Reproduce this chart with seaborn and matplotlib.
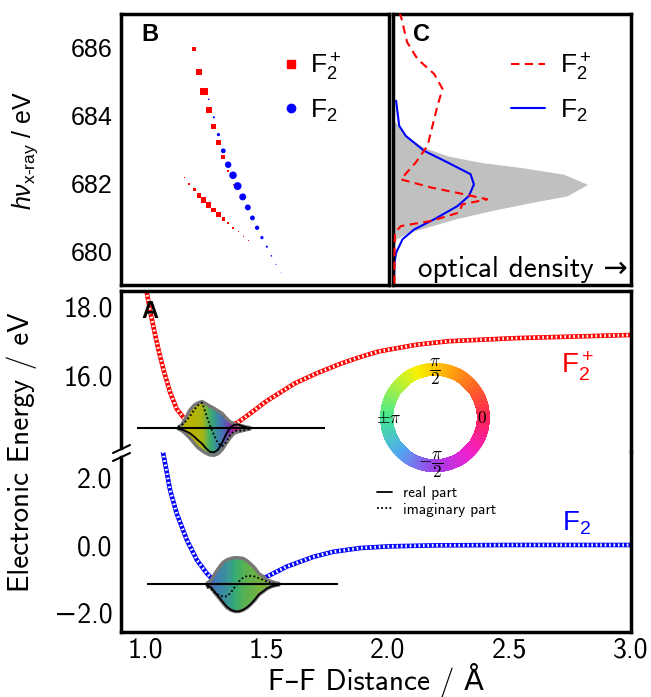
import numpy as np
import matplotlib
matplotlib.use("Agg")
import matplotlib.pyplot as plt
import seaborn as sns
from matplotlib.lines import Line2D
from matplotlib.collections import PolyCollection
from matplotlib.colors import LinearSegmentedColormap

# ---------------- data ----------------
# Panel A: potential energy curves (F-F distance / Å, energy / eV)
r_f2p = [1.000, 1.007, 1.021, 1.041, 1.059, 1.078, 1.103, 1.130, 1.160, 1.200, 1.290,
         1.377, 1.432, 1.501, 1.617, 1.707, 1.802, 1.885, 1.960, 2.118, 2.250, 2.530, 3.000]
e_f2p = [18.70, 18.40, 17.85, 17.18, 16.62, 16.10, 15.50, 15.02, 14.75, 14.58, 14.48,
         14.60, 14.88, 15.25, 15.76, 16.05, 16.32, 16.52, 16.68, 16.88, 16.98, 17.07, 17.16]
r_f2 = [1.070, 1.103, 1.130, 1.172, 1.213, 1.254, 1.281, 1.317, 1.379, 1.440, 1.501,
        1.583, 1.693, 1.775, 1.885, 2.004, 2.200, 2.502, 3.000]
e_f2 = [2.90, 1.63, 0.94, 0.15, -0.44, -0.84, -1.04, -1.19, -1.24, -1.19, -0.94,
        -0.64, -0.35, -0.20, -0.09, -0.04, -0.01, 0.00, 0.00]

# Panel A: vibrational wavepackets (amplitudes in eV relative to the level)
wp_f2p_level = 14.455
wp_f2p_span = [0.966, 1.741]
wp_f2p_r = [1.136, 1.152, 1.169, 1.185, 1.202, 1.218, 1.235, 1.251, 1.267, 1.284,
            1.300, 1.317, 1.333, 1.350, 1.366, 1.383, 1.399, 1.416, 1.432]
wp_f2p_upper = [0.014, 0.116, 0.319, 0.536, 0.667, 0.739, 0.774, 0.710, 0.638, 0.580,
                0.507, 0.435, 0.304, 0.188, 0.130, 0.096, 0.072, 0.043, 0.023]
wp_f2p_lower = [0.014, 0.072, 0.174, 0.290, 0.435, 0.565, 0.652, 0.725, 0.774, 0.783,
                0.739, 0.623, 0.449, 0.275, 0.145, 0.101, 0.072, 0.043, 0.023]
wp_f2p_re = [-0.009, -0.038, -0.087, -0.145, -0.241, -0.348, -0.449, -0.580, -0.681, -0.696,
             -0.623, -0.420, -0.183, 0.020, 0.101, 0.110, 0.067, 0.029, 0.009]
wp_f2p_im = [0.043, 0.101, 0.217, 0.348, 0.536, 0.667, 0.739, 0.406, 0.087, -0.203,
             -0.435, -0.522, -0.406, -0.203, -0.087, -0.058, -0.072, -0.043, -0.014]

wp_f2_level = -1.165
wp_f2_span = [1.007, 1.795]
wp_f2_r = [1.255, 1.272, 1.288, 1.305, 1.321, 1.337, 1.354, 1.370, 1.387, 1.403,
           1.420, 1.436, 1.453, 1.469, 1.486, 1.502, 1.519, 1.535, 1.551]
wp_f2_upper = [0.030, 0.133, 0.326, 0.504, 0.652, 0.726, 0.770, 0.791, 0.785, 0.770,
               0.696, 0.593, 0.474, 0.311, 0.237, 0.133, 0.089, 0.050, 0.030]
wp_f2_lower = [0.044, 0.104, 0.267, 0.415, 0.563, 0.696, 0.770, 0.809, 0.806, 0.770,
               0.696, 0.593, 0.465, 0.311, 0.222, 0.133, 0.074, 0.039, 0.021]
wp_f2_re = [-0.030, -0.089, -0.237, -0.385, -0.533, -0.667, -0.756, -0.800, -0.800, -0.756,
            -0.681, -0.578, -0.444, -0.296, -0.207, -0.119, -0.065, -0.033, -0.015]
wp_f2_im = [-0.089, -0.148, -0.252, -0.326, -0.364, -0.356, -0.237, -0.068, 0.089, 0.193,
            0.246, 0.246, 0.228, 0.178, 0.133, 0.074, 0.044, 0.021, 0.006]

# Panel B: X-ray transition energies vs. distance, marker area ~ weight
b_f2p_up_r = [1.203, 1.222, 1.242, 1.262, 1.283, 1.302, 1.322, 1.343, 1.363, 1.383, 1.403]
b_f2p_up_e = [685.96, 685.28, 684.71, 684.17, 683.68, 683.20, 682.77, 682.37, 681.97, 681.60, 681.25]
b_f2p_up_w = [0.33, 0.73, 1.00, 0.73, 0.51, 0.51, 0.33, 0.08, 0.02, 0.01, 0.005]
b_f2p_lo_r = [1.141, 1.162, 1.182, 1.203, 1.222, 1.242, 1.262, 1.283, 1.302, 1.322,
              1.343, 1.363, 1.384, 1.405, 1.425]
b_f2p_lo_e = [682.39, 682.17, 681.99, 681.82, 681.65, 681.51, 681.36, 681.21, 681.08, 680.95,
              680.82, 680.69, 680.57, 680.44, 680.32]
b_f2p_lo_w = [0.005, 0.013, 0.066, 0.18, 0.41, 0.51, 0.51, 0.41, 0.33, 0.18,
              0.08, 0.046, 0.02, 0.01, 0.005]
b_f2_r = [1.262, 1.283, 1.302, 1.322, 1.342, 1.362, 1.381, 1.402, 1.423, 1.442,
          1.461, 1.481, 1.501, 1.520, 1.539, 1.560]
b_f2_e = [684.48, 683.95, 683.44, 682.96, 682.55, 682.24, 681.92, 681.60, 681.29, 680.98,
          680.69, 680.40, 680.13, 679.86, 679.61, 679.36]
b_f2_w = [0.042, 0.075, 0.17, 0.38, 0.68, 0.92, 1.00, 0.79, 0.57, 0.38,
          0.30, 0.17, 0.075, 0.042, 0.019, 0.009]

# Panel C: spectra (optical density, arbitrary units) vs photon energy / eV
c_exp_e = [680.10, 680.35, 680.54, 680.74, 680.94, 681.19, 681.43, 681.63, 681.97, 682.27,
           682.47, 682.62, 682.81, 683.06, 683.40, 683.80]
c_exp_od = [0.003, 0.013, 0.061, 0.159, 0.257, 0.410, 0.577, 0.731, 0.817, 0.717,
            0.536, 0.368, 0.229, 0.131, 0.054, 0.010]
c_f2_e = [684.44, 683.70, 683.40, 682.96, 682.62, 682.27, 681.97, 681.63, 681.33, 680.94,
          680.64, 680.35, 679.95, 679.66, 679.00]
c_f2_od = [0.013, 0.026, 0.054, 0.131, 0.229, 0.326, 0.340, 0.319, 0.271, 0.173,
           0.089, 0.040, 0.013, 0.006, 0.004]
c_f2p_e = [687.05, 686.86, 686.17, 685.67, 685.23, 684.79, 684.29, 683.70, 683.11, 682.62,
           682.12, 681.88, 681.68, 681.53, 681.38, 681.14, 680.89, 680.74, 680.54, 679.95, 679.00]
c_f2p_od = [0.027, 0.036, 0.059, 0.103, 0.173, 0.208, 0.187, 0.166, 0.145, 0.096,
            0.033, 0.159, 0.298, 0.396, 0.291, 0.278, 0.159, 0.033, 0.008, 0.006, 0.006]

a_xticks = [1.0, 1.5, 2.0, 2.5, 3.0]
a_top_yticks = [16.0, 18.0]
a_bot_yticks = [-2.0, 0.0, 2.0]
b_xticks = [1.0, 1.5]
b_yticks = [680, 682, 684, 686]

# ---------------- style ----------------
sns.set_style("white")
plt.rcParams["font.family"] = ["cmss10", "DejaVu Sans"]
plt.rcParams["mathtext.fontset"] = "custom"
plt.rcParams["mathtext.rm"] = "Liberation Sans"
plt.rcParams["mathtext.sf"] = "Liberation Sans"
plt.rcParams["mathtext.it"] = "Liberation Sans:italic"
plt.rcParams["mathtext.bf"] = "Liberation Sans:bold"
plt.rcParams["axes.unicode_minus"] = True
for key in ("text.color", "axes.labelcolor", "xtick.color", "ytick.color", "axes.edgecolor"):
    plt.rcParams[key] = "black"

ARIAL = ["Liberation Sans", "DejaVu Sans"]
RED, BLUE = "#ff0000", "#0000ff"

phase_cmap = LinearSegmentedColormap.from_list("phase", [
    (0.0, "#ff2255"), (45 / 360, "#ff7020"), (90 / 360, "#ffc800"), (112 / 360, "#f8f000"),
    (140 / 360, "#b0f040"), (180 / 360, "#44e890"), (225 / 360, "#50a8f0"),
    (270 / 360, "#a040e8"), (315 / 360, "#f020d0"), (1.0, "#ff2255")])

W, H = 651, 697
fig = plt.figure(figsize=(W / 100, H / 100), dpi=100)


def box(l, t, r, b):
    return [l / W, 1 - b / H, (r - l) / W, (b - t) / H]


axB = fig.add_axes(box(121, 14, 389, 285))
axC = fig.add_axes(box(393, 14, 631, 285), sharey=axB)
axAb = fig.add_axes(box(121, 452, 631, 632))
axAt = fig.add_axes(box(121, 291, 631, 452), sharex=axAb)
for ax in (axB, axC, axAt, axAb):
    ax.patch.set_visible(False)
    for sp in ax.spines.values():
        sp.set_linewidth(2.5)
        sp.set_color("black")
        sp.set_capstyle("projecting")

tick_kw = dict(direction="in", length=11.5, width=1.5, top=False, right=False)

# ---------------- panel A ----------------
def potential(ax, r, e, color):
    sns.lineplot(x=r, y=e, ax=ax, color=color, linewidth=3.3, sort=False,
                 estimator=None, legend=False, zorder=2)
    sns.lineplot(x=r, y=e, ax=ax, color="white", linewidth=2.2, sort=False,
                 estimator=None, legend=False, zorder=2.1, linestyle=(0, (0.55, 0.9)))


def packet(ax, r, level, upper, lower, re, im, span):
    r = np.asarray(r)
    up = level + np.asarray(upper)
    lo = level - np.asarray(lower)
    re = np.asarray(re)
    im = np.asarray(im)
    ph = np.mod(np.arctan2(im, re), 2 * np.pi) / (2 * np.pi)
    cols = np.asarray(phase_cmap(ph))[:, :3] * 0.75
    quads, fcs = [], []
    nsub = 8
    for i in range(len(r) - 1):
        for k in range(nsub):
            t0, t1 = k / nsub, (k + 1) / nsub
            xa, xb = r[i] + (r[i + 1] - r[i]) * t0, r[i] + (r[i + 1] - r[i]) * t1
            ua, ub = up[i] + (up[i + 1] - up[i]) * t0, up[i] + (up[i + 1] - up[i]) * t1
            la, lb = lo[i] + (lo[i + 1] - lo[i]) * t0, lo[i] + (lo[i + 1] - lo[i]) * t1
            tm = 0.5 * (t0 + t1)
            quads.append([(xa, la), (xa, ua), (xb, ub), (xb, lb)])
            fcs.append(cols[i] * (1 - tm) + cols[i + 1] * tm)
    pc = PolyCollection(quads, facecolors=fcs, edgecolors="none", alpha=0.82,
                        antialiased=False, zorder=3, clip_on=False)
    ax.add_collection(pc)
    for edge in (up, lo):
        ax.plot(r, edge, color="#777777", lw=2.4, zorder=4, clip_on=False,
                solid_capstyle="round", solid_joinstyle="round")
    ax.hlines(level, span[0], span[1], color="black", lw=1.5, zorder=4.5, clip_on=False)
    ax.plot(r, level + re, color="black", lw=1.3, zorder=5, clip_on=False)
    ax.plot(r, level + im, color="black", lw=1.3, ls=(0, (1, 1.3)), zorder=5, clip_on=False)


potential(axAt, r_f2p, e_f2p, RED)
potential(axAb, r_f2, e_f2, BLUE)
packet(axAt, wp_f2p_r, wp_f2p_level, wp_f2p_upper, wp_f2p_lower, wp_f2p_re, wp_f2p_im, wp_f2p_span)
packet(axAb, wp_f2_r, wp_f2_level, wp_f2_upper, wp_f2_lower, wp_f2_re, wp_f2_im, wp_f2_span)

axAb.set_xlim(0.901, 3.0)
axAt.set_ylim(13.768, 18.435)
axAb.set_ylim(-2.578, 2.756)
axAt.spines["bottom"].set_visible(False)
axAb.spines["top"].set_visible(False)
# small gap in the left spine at the axis break
yt0, yt1 = axAt.get_ylim()
axAt.spines["left"].set_bounds(yt0 + (yt1 - yt0) * 4 / 161, yt1)
yb0, yb1 = axAb.get_ylim()
axAb.spines["left"].set_bounds(yb0, yb1 - (yb1 - yb0) * 5 / 180)

axAt.set_yticks(a_top_yticks)
axAt.set_yticklabels([f"{v:.1f}" for v in a_top_yticks])
axAb.set_yticks(a_bot_yticks)
axAb.set_yticklabels([f"{v:.1f}".replace("-", "\u2212") for v in a_bot_yticks])
axAb.set_xticks(a_xticks)
axAb.set_xticklabels([f"{v:.1f}" for v in a_xticks])
axAt.tick_params(axis="y", labelsize=20, pad=6, **tick_kw)
axAt.tick_params(axis="x", bottom=False, labelbottom=False, top=False)
axAb.tick_params(axis="y", labelsize=20, pad=6, **tick_kw)
axAb.tick_params(axis="x", labelsize=20, pad=4, **tick_kw)
for ax in (axAt, axAb):
    ax.set_xlabel("")
    ax.set_ylabel("")

for dy in (0, -8):
    fig.add_artist(Line2D([113 / W, 130 / W], [1 - (461 + dy) / H, 1 - (453 + dy) / H],
                          color="black", lw=1.5))

fig.text(22 / W, 1 - 452 / H, "Electronic Energy / eV", rotation=90, ha="center",
         va="center", fontsize=21)
fig.text(376 / W, 1 - 680 / H, "F\u2013F Distance / \u00c5", ha="center", va="center",
         fontsize=21)
fig.text(150 / W, 1 - 311 / H, "A", fontsize=17, fontweight="bold", family=ARIAL,
         ha="center", va="center")
fig.text(577 / W, 1 - 366 / H, r"F$_2^+$", color=RED, fontsize=20, family=ARIAL,
         ha="center", va="center")
fig.text(577 / W, 1 - 523 / H, r"F$_2$", color=BLUE, fontsize=20, family=ARIAL,
         ha="center", va="center")

# phase colour wheel
axW = fig.add_axes(box(380, 362.5, 490, 472.5), projection="polar")
th = np.linspace(0, 2 * np.pi, 361)
rr = np.array([41.7, 55.0])
vals = ((th[:-1] + th[1:]) / 2 / (2 * np.pi))[np.newaxis, :]
axW.pcolormesh(th, rr, vals, cmap=phase_cmap, vmin=0, vmax=1, shading="flat")
axW.set_ylim(0, 55)
axW.set_axis_off()
wheel_kw = dict(ha="center", va="center", math_fontfamily="cm", fontsize=12.5)
fig.text(435 / W, 1 - 372 / H, r"$\dfrac{\pi}{2}$", **wheel_kw)
fig.text(431 / W, 1 - 465 / H, r"$-\dfrac{\pi}{2}$", **wheel_kw)
fig.text(482 / W, 1 - 418 / H, r"$0$", **wheel_kw)
fig.text(389 / W, 1 - 418 / H, r"$\pm\pi$", **wheel_kw)

part_handles = [Line2D([], [], color="black", lw=1.3),
                Line2D([], [], color="black", lw=1.3, ls=(0, (1, 1.3)))]
fig.legend(part_handles, ["real part", "imaginary part"], loc="center left",
           bbox_to_anchor=(377 / W, 1 - 501.5 / H), frameon=False, fontsize=11,
           handlelength=1.0, handletextpad=0.7, labelspacing=0.15, borderpad=0,
           borderaxespad=0)

# ---------------- panel B ----------------
sns.scatterplot(x=b_f2p_up_r, y=b_f2p_up_e, size=b_f2p_up_w, sizes=(0, 28),
                size_norm=(0, 1), marker="s", color=RED, linewidth=0, legend=False, ax=axB)
sns.scatterplot(x=b_f2p_lo_r, y=b_f2p_lo_e, size=b_f2p_lo_w, sizes=(0, 28),
                size_norm=(0, 1), marker="s", color=RED, linewidth=0, legend=False, ax=axB)
sns.scatterplot(x=b_f2_r, y=b_f2_e, size=b_f2_w, sizes=(0, 32),
                size_norm=(0, 1), marker="o", color=BLUE, linewidth=0, legend=False, ax=axB)
axB.set_xlim(0.901, 2.004)
axB.set_ylim(679.0, 687.0)
axB.set_xticks(b_xticks)
axB.set_xticklabels([])
axB.set_yticks(b_yticks)
axB.set_yticklabels([str(v) for v in b_yticks], family=ARIAL)
axB.tick_params(labelsize=18, pad=6, **tick_kw)
axB.set_xlabel("")
axB.set_ylabel("")
fig.text(25 / W, 1 - 150 / H, r"$h\nu_{\mathrm{x\text{-}ray}}$ / eV", rotation=90,
         ha="center", va="center", fontsize=18, family=ARIAL)
axB.text(0.107, 0.926, "B", transform=axB.transAxes, fontsize=17, fontweight="bold",
         family=ARIAL, ha="center", va="center")
b_handles = [Line2D([], [], marker="s", color=RED, ls="none", markersize=5.5),
             Line2D([], [], marker="o", color=BLUE, ls="none", markersize=6)]
axB.legend(b_handles, [r"F$_2^+$", r"F$_2$"], loc="center left",
           bbox_to_anchor=(280 / W, 1 - 87 / H), bbox_transform=fig.transFigure,
           frameon=False, prop={"family": ARIAL, "size": 19}, handlelength=0.8,
           handletextpad=0.35, labelspacing=0.55, borderpad=0, borderaxespad=0)

# ---------------- panel C ----------------
axC.fill_betweenx(c_exp_e, 0, c_exp_od, color="#c0c0c0", linewidth=0, zorder=1)
sns.lineplot(x=c_f2p_od, y=c_f2p_e, ax=axC, color=RED, linewidth=1.5, sort=False,
             estimator=None, legend=False, linestyle=(0, (4, 2.6)), zorder=3)
sns.lineplot(x=c_f2_od, y=c_f2_e, ax=axC, color=BLUE, linewidth=1.5, sort=False,
             estimator=None, legend=False, zorder=2)
axC.set_xlim(0, 1)
axC.tick_params(axis="y", labelleft=False, **tick_kw)
axC.tick_params(axis="x", bottom=False, labelbottom=False)
axC.set_xlabel("")
axC.set_ylabel("")
axC.text(0.118, 0.926, "C", transform=axC.transAxes, fontsize=17, fontweight="bold",
         family=ARIAL, ha="center", va="center")
axC.text(0.985, 0.058, "optical density \u2192", transform=axC.transAxes, ha="right",
         va="center", fontsize=21)
c_handles = [Line2D([], [], color=RED, lw=1.5, ls=(0, (4, 2.6))),
             Line2D([], [], color=BLUE, lw=1.5)]
axC.legend(c_handles, [r"F$_2^+$", r"F$_2$"], loc="center left",
           bbox_to_anchor=(511 / W, 1 - 87 / H), bbox_transform=fig.transFigure,
           frameon=False, prop={"family": ARIAL, "size": 19}, handlelength=1.3,
           handletextpad=0.55, labelspacing=0.55, borderpad=0, borderaxespad=0)

fig.savefig("out.png", dpi=100)
